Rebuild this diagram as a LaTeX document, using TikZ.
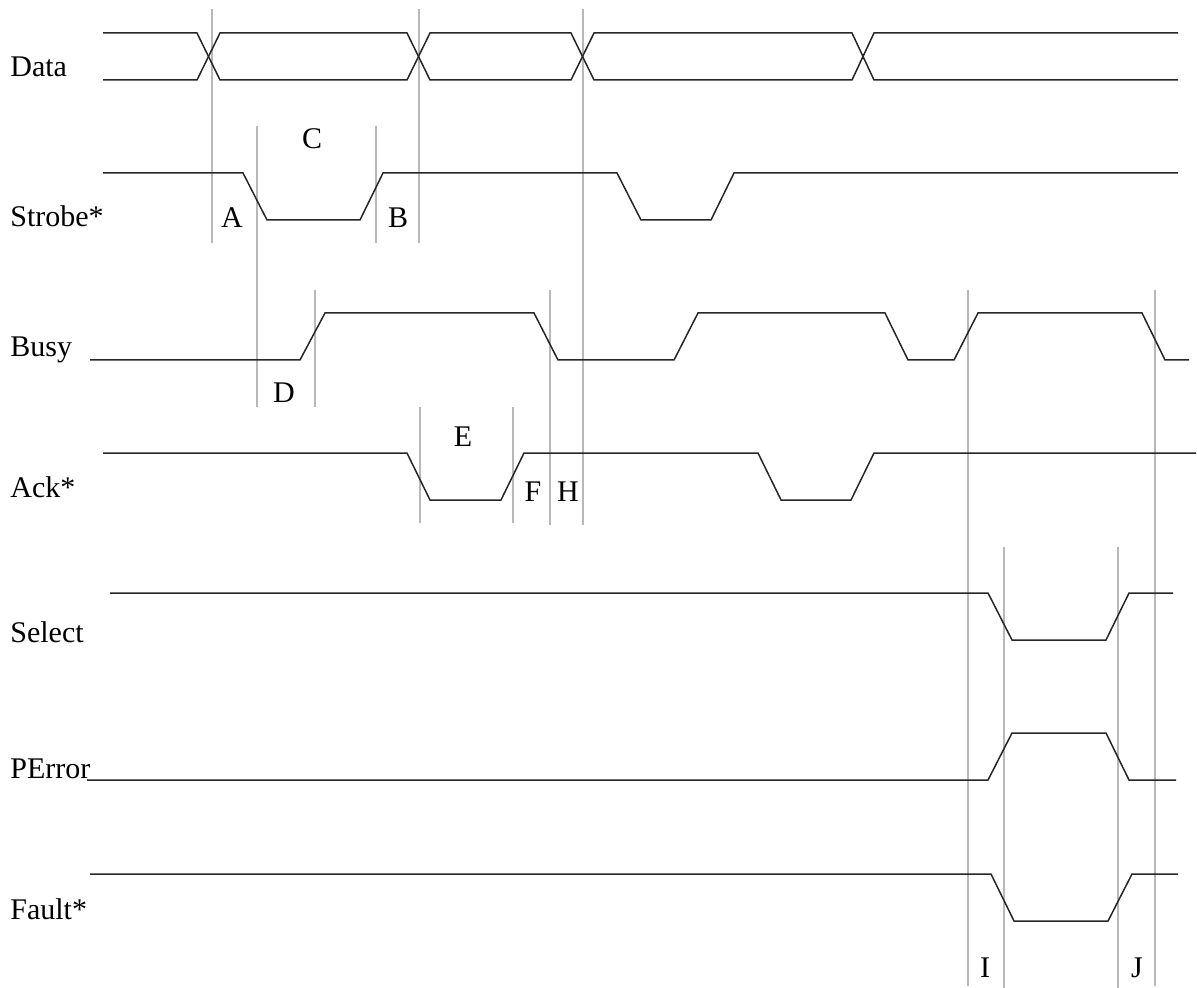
\documentclass[tikz,border=0pt]{standalone}
\usepackage{fontspec}
\setmainfont{Liberation Serif}
\usetikzlibrary{positioning}

\begin{document}
\begin{tikzpicture}[
    x=0.5pt, y=-0.5pt,
    wave/.style={line width=0.75pt, black!85},
    marker/.style={line width=0.6pt, black!28},
    signame/.style={anchor=base west, inner sep=0pt, font=\fontsize{15}{18}\selectfont},
    tlabel/.style={anchor=base, inner sep=0pt, font=\fontsize{15}{18}\selectfont}
]
\useasboundingbox (0,0) rectangle (1197,988);

% timing markers
\foreach \x/\ya/\yb in {212/9/243, 419/9/243, 583/9/525, 257/126/407, 376/126/243,
    315/290/407, 550/290/525, 968/290/986, 1155/290/986, 420/407/523, 513/407/523,
    1004/547/988, 1118/547/988}
    \draw[marker] (\x,\ya) -- (\x,\yb);

% signal names
\node[signame] (data) at (10,77) {Data};
\node[signame] (strobe) at (10,227) {Strobe*};
\node[signame] (busy) at (10,357) {Busy};
\node[signame] (ack) at (10,497) {Ack*};
\node[signame] (select) at (10,642) {Select};
\node[signame] (perror) at (10,778) {PError};
\node[signame] (fault) at (10,919) {Fault*};

% waveforms
\draw[wave] (103,33) -- (197,33) -- (220,80) -- (407,80) -- (430,33) -- (571,33) -- (594,80) -- (852,80) -- (874,33) -- (1178,33);
\draw[wave] (103,80) -- (197,80) -- (220,33) -- (407,33) -- (430,80) -- (571,80) -- (594,33) -- (852,33) -- (874,80) -- (1178,80);
\draw[wave] (103,173) -- (243,173) -- (267,220) -- (360,220) -- (383,173) -- (617,173) -- (641,220) -- (711,220) -- (734,173) -- (1178,173);
\draw[wave] (90,360) -- (300,360) -- (325,313) -- (534,313) -- (558,360) -- (674,360) -- (698,313) -- (885,313) -- (908,360) -- (954,360) -- (978,313) -- (1142,313) -- (1165,360) -- (1189,360);
\draw[wave] (103,453) -- (407,453) -- (430,500) -- (501,500) -- (524,453) -- (758,453) -- (781,500) -- (851,500) -- (874,453) -- (1196,453);
\draw[wave] (110,593) -- (988,593) -- (1012,640) -- (1106,640) -- (1129,593) -- (1173,593);
\draw[wave] (87,780) -- (988,780) -- (1012,733) -- (1106,733) -- (1129,780) -- (1176,780);
\draw[wave] (90,874) -- (991,874) -- (1014,921) -- (1108,921) -- (1132,874) -- (1178,874);

% interval letters
\node[tlabel] (tA) at (232,228) {A};
\node[tlabel] (tB) at (398,228) {B};
\node[tlabel] (tC) at (312,149) {C};
\node[tlabel] (tD) at (284,402) {D};
\node[tlabel] (tE) at (463,446) {E};
\node[tlabel] (tF) at (533,501) {F};
\node[tlabel] (tH) at (568,501) {H};
\node[tlabel] (tI) at (985,977) {I};
\node[tlabel] (tJ) at (1137,977) {J};

\end{tikzpicture}
\end{document}
